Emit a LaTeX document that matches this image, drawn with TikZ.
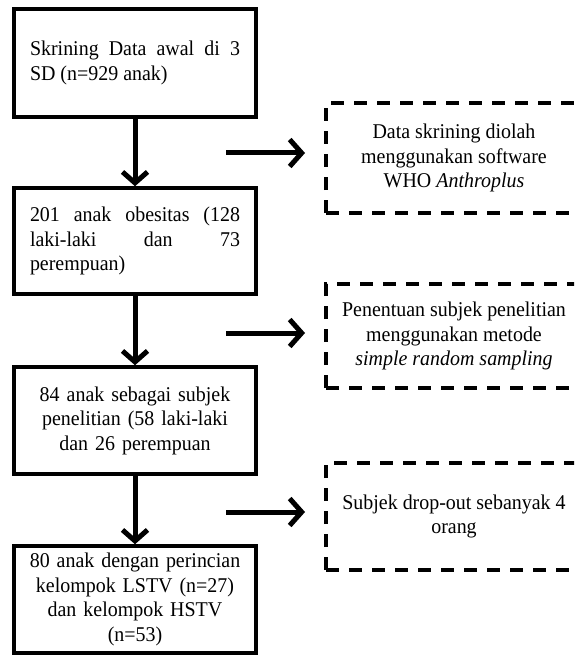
\documentclass[tikz,border=0pt]{standalone}
\usepackage{fontspec}
\setmainfont{Liberation Serif}[FakeStretch=0.95]
\usetikzlibrary{arrows.meta}
\newcommand\diagfont{\fontsize{21pt}{24.5pt}\selectfont\hyphenpenalty=10000\exhyphenpenalty=10000}
\begin{document}
\begin{tikzpicture}[x=1pt,y=-1pt,
  solidbox/.style={draw, line width=3.5pt, rectangle, minimum width=242pt, inner sep=0pt, font=\diagfont},
  dashnode/.style={rectangle, minimum width=256pt, inner sep=0pt, outer sep=0pt, align=center, font=\diagfont},
  dashline/.style={line width=3.5pt, dash pattern=on 13pt off 10pt},
  flowarrow/.style={line width=5pt, -{Straight Barb[length=11pt,width=25pt]}},
  sidearrow/.style={line width=5pt, -{Straight Barb[length=12pt,width=27pt]}}]
\useasboundingbox (0,0) rectangle (574,655);
\clip (0,0) rectangle (574,655);
% main column
\node[solidbox, minimum height=108pt, text width=210pt, align=justify] (b1) at (135,63)
  {Skrining Data awal di 3\linebreak SD (n=929 anak)};
\node[solidbox, minimum height=106pt, text width=210pt, align=justify] (b2) at (135,241)
  {201 anak obesitas (128\linebreak laki-laki dan 73\linebreak perempuan)};
\node[solidbox, minimum height=107pt, text width=230pt, align=center] (b3) at (135,420.5)
  {84 anak sebagai subjek\\ penelitian (58 laki-laki\\ dan 26 perempuan};
\node[solidbox, minimum height=107pt, text width=230pt, align=center] (b4) at (135,599.5)
  {80 anak dengan perincian\\ kelompok LSTV (n=27)\\ dan kelompok HSTV\\ (n=53)};
\draw[flowarrow] (b1.south) -- (b2.north);
\draw[flowarrow] (b2.south) -- (b3.north);
\draw[flowarrow] (b3.south) -- (b4.north);
% side boxes
\node[dashnode, minimum height=110pt] (dA) at (454,158)
  {Data skrining diolah\\ menggunakan software\\ WHO \textit{Anthroplus}};
\node[dashnode, minimum height=104pt] (dB) at (454,336)
  {Penentuan subjek penelitian\\ menggunakan metode\\ \textit{simple random sampling}};
\node[dashnode, minimum height=107pt] (dC) at (454,516.5)
  {Subjek drop-out sebanyak 4\\ orang};
\foreach \n in {dA,dB,dC}{
  \draw[dashline] (\n.south west) -- (\n.north west) -- (\n.north east);
  \draw[dashline] (\n.south west) -- (\n.south east);
}
% side arrows
\coordinate (sA1) at (226,153); \coordinate (sA2) at (305,153);
\coordinate (sB1) at (226,333); \coordinate (sB2) at (305,333);
\coordinate (sC1) at (226,512); \coordinate (sC2) at (305,512);
\draw[sidearrow] (sA1) -- (sA2);
\draw[sidearrow] (sB1) -- (sB2);
\draw[sidearrow] (sC1) -- (sC2);
\end{tikzpicture}
\end{document}
